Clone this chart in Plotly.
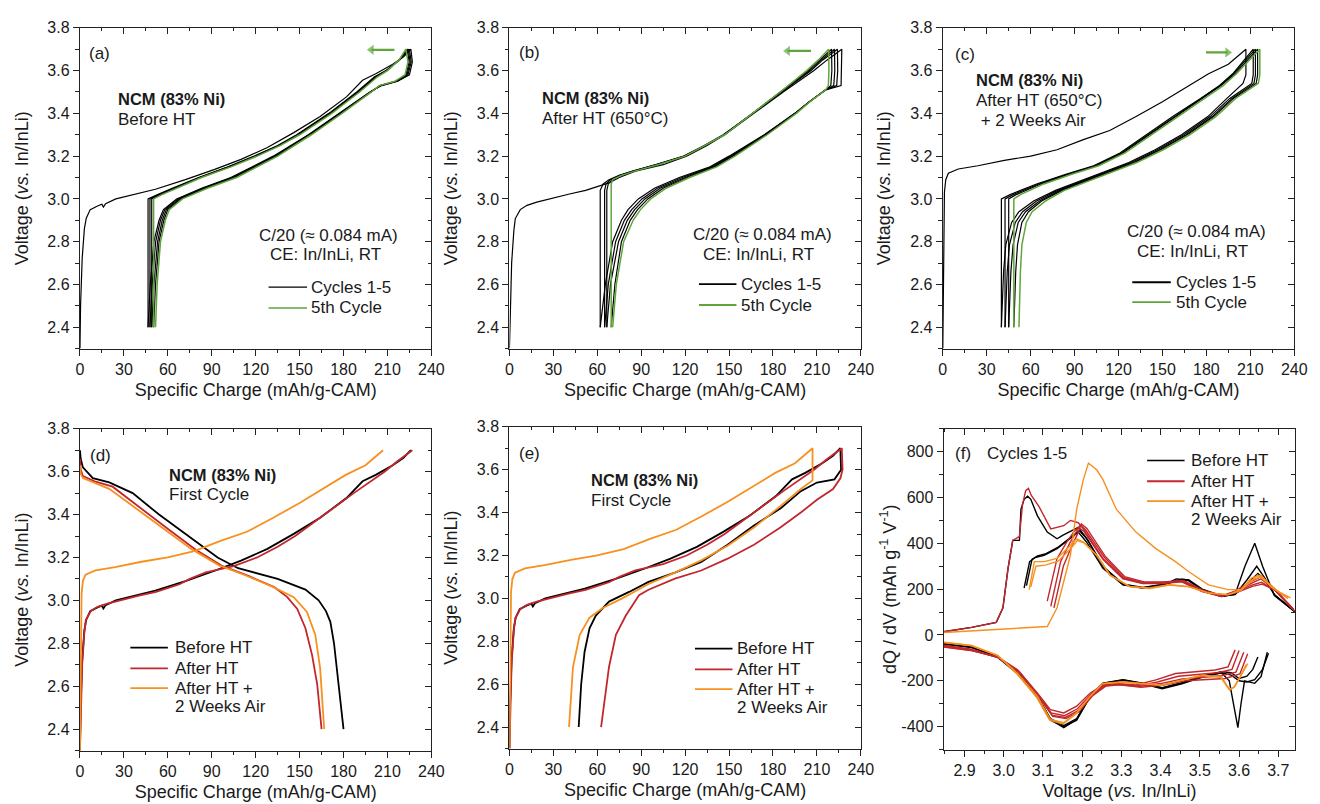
import plotly.graph_objects as go

FONT = "Arial, Liberation Sans, Helvetica, sans-serif"
BLACK = "#000000"
GREEN = "#5ea53a"
RED = "#c1272d"
ORANGE = "#f7901e"
AX = "#222222"
TXT = "#1a1a1a"

# ---------------- Panel (a): before HT, cycles 1-5 ----------------
a_first_q = [0, 0.4, 1.5, 3.0, 4.3, 7.0, 12, 15, 16, 17.5, 24.5, 40, 51.5, 72, 92, 110, 128, 146, 164, 182, 193, 202, 213.6, 221, 226]
a_first_v = [2.30, 2.50, 2.72, 2.86, 2.91, 2.95, 2.967, 2.975, 2.962, 2.978, 3.00, 3.025, 3.045, 3.09, 3.138, 3.185, 3.24, 3.31, 3.385, 3.477, 3.555, 3.585, 3.63, 3.665, 3.70]
a_ch_v = [2.40, 3.00, 3.02, 3.05, 3.10, 3.15, 3.20, 3.25, 3.30, 3.40, 3.50, 3.57, 3.60, 3.65, 3.70]
a_ch_q2 = [46.5, 46.5, 53, 63, 81, 101, 119, 135, 148, 170, 189, 201, 209, 218.5, 225.0]
a_ch_q3 = [47.8, 47.8, 54, 64, 81.7, 101.7, 119.7, 135.7, 148.7, 170.7, 189.7, 201.7, 209.3, 218.2, 224.2]
a_ch_q4 = [49.0, 49.0, 55, 65, 82.3, 102.3, 120.3, 136.3, 149.3, 171.3, 190.3, 202.3, 209.7, 218.0, 223.5]
a_ch_q5 = [50.3, 50.3, 56, 66, 83, 103, 121, 137, 150, 172, 191, 203, 210, 218, 222.6]
a_dis_v = [3.70, 3.64, 3.58, 3.55, 3.53, 3.50, 3.40, 3.30, 3.20, 3.10, 3.05, 3.00, 2.95, 2.90, 2.80, 2.60, 2.40]
a_dis_q1 = [226, 227, 225, 217, 206, 198, 177, 156, 132, 103, 83, 66, 57, 54, 50.5, 48, 46.5]
a_dis_q2 = [225, 226.2, 224, 216.5, 205.5, 198.3, 177.5, 156.5, 133, 104, 84, 67, 58, 55, 51.7, 49.3, 47.8]
a_dis_q3 = [224.2, 225.5, 223.3, 216, 205, 198.6, 178, 157, 134, 105, 85, 68, 59, 56.2, 53, 50.5, 49.0]
a_dis_q4 = [223.5, 224.8, 222.6, 215.6, 204.8, 198.8, 178.5, 157.5, 134.5, 106, 86, 69, 60, 57.3, 54, 51.6, 50.3]
a_dis_q5 = [222.6, 224, 222, 215, 204.5, 199, 179, 158, 135, 107, 87, 70, 61, 58.3, 55, 52.7, 51.6]

# ---------------- Panel (b): after HT (650 C), cycles 1-5 ----------------
b_first_q = [0, 0.5, 1.5, 3.0, 4.0, 7.4, 12, 18.7, 30, 41, 52, 59, 68, 75, 86, 105, 121, 135, 147, 167, 187, 208, 217, 227]
b_first_v = [2.30, 2.45, 2.70, 2.85, 2.908, 2.95, 2.97, 2.985, 3.005, 3.023, 3.04, 3.054, 3.075, 3.10, 3.13, 3.16, 3.20, 3.25, 3.30, 3.40, 3.50, 3.60, 3.65, 3.70]
b_ch_v = [2.40, 3.04, 3.07, 3.09, 3.11, 3.13, 3.16, 3.20, 3.25, 3.30, 3.40, 3.50, 3.60, 3.65, 3.70]
b_ch_q2 = [62.0, 62.0, 64, 68, 75, 84, 100, 119, 133, 146, 166, 186, 206, 214, 224]
b_ch_q3 = [65.0, 65.0, 66, 69, 75.5, 84.5, 100.5, 119.5, 133.5, 146.5, 166, 185.5, 205, 213, 222]
b_ch_q4 = [66.5, 66.5, 67.5, 70, 76, 85, 101, 120, 134, 147, 166, 185, 204, 212, 220]
b_ch_q5 = [69.5, 69.5, 69.5, 70.5, 76.5, 85.5, 101.5, 120, 134, 147, 166, 185, 203, 211, 218]
b_dis_v = [3.70, 3.60, 3.53, 3.51, 3.45, 3.40, 3.30, 3.20, 3.15, 3.10, 3.05, 3.00, 2.95, 2.90, 2.80, 2.60, 2.40]
b_dis_q1 = [227, 227, 226.5, 216, 204, 195, 174, 150, 137, 116, 99, 88, 81, 76.5, 70.5, 65.5, 62.0]
b_dis_q2 = [224, 224.2, 223.5, 216, 204, 195, 174.5, 151, 138.5, 118, 101, 90.5, 83.5, 78.5, 72.5, 67.5, 65.0]
b_dis_q3 = [222, 222.2, 221.5, 216, 204, 195, 175, 152, 139.5, 120, 103, 92.5, 85.5, 80.5, 74.5, 69, 66.5]
b_dis_q4 = [220, 220.2, 219.5, 216, 204, 195.5, 175.5, 153, 140.5, 121.5, 105, 94.5, 87.5, 82.5, 76.5, 72, 69.5]
b_dis_q5 = [218, 218.2, 217.8, 216, 204.5, 196, 176, 154, 141.5, 123, 107, 96.5, 89.5, 84.5, 78, 73, 70.5]

# ---------------- Panel (c): after HT + 2 weeks air, cycles 1-5 ----------------
c_first_q = [0, 0.3, 0.8, 1.1, 2.0, 3.8, 10.6, 24, 42, 60, 78, 96, 114, 132, 150, 168, 181.5, 195, 207]
c_first_v = [2.30, 2.60, 2.90, 3.03, 3.09, 3.12, 3.14, 3.155, 3.18, 3.20, 3.23, 3.277, 3.32, 3.385, 3.454, 3.53, 3.585, 3.63, 3.70]
c_ch_v = [2.40, 3.00, 3.02, 3.07, 3.115, 3.155, 3.215, 3.30, 3.385, 3.47, 3.53, 3.585, 3.64, 3.70]
c_ch_q2 = [40.0, 40.0, 46, 64, 84, 103, 121, 139, 157, 176, 189, 198, 205, 212]
c_ch_q3 = [42.5, 42.5, 48, 65.5, 85, 104, 122, 140, 158, 176.5, 189.5, 198.5, 206, 213.5]
c_ch_q4 = [45.0, 45.0, 50, 67, 86, 105, 123, 141, 159, 177, 190, 199.5, 207, 215]
c_ch_q5 = [48.5, 48.5, 53, 69, 88, 106.5, 124.5, 142.5, 160.5, 178.5, 191.5, 200.5, 208, 216.5]
c_dis_v = [3.70, 3.58, 3.54, 3.47, 3.385, 3.30, 3.23, 3.17, 3.123, 3.077, 3.04, 2.99, 2.94, 2.89, 2.785, 2.66, 2.40]
c_dis_q1 = [207, 207, 205, 194, 181, 163, 145, 127, 109, 91, 77, 62, 52, 47, 43, 41.5, 40.0]
c_dis_q2 = [212, 212, 211, 196, 182.5, 164.5, 146.5, 128.5, 110.5, 92.5, 78.5, 64, 54.5, 49.5, 45.5, 44, 42.5]
c_dis_q3 = [213.5, 213.5, 212.5, 197.5, 184, 166, 148, 130, 112, 94, 80, 66, 56.5, 51.5, 48, 46.5, 45.0]
c_dis_q4 = [215, 215, 214, 198.5, 185, 167, 149, 131, 113, 95, 81.5, 67.5, 58.5, 54, 51, 49.8, 48.5]
c_dis_q5 = [216.5, 216.5, 215.5, 200, 186.5, 168.5, 150.5, 132.5, 114.5, 96.5, 83, 70, 61, 57, 54, 53, 52.0]

# ---------------- Panel (d): first cycle, discharge plotted from zero ----------------
d_dis_black_q = [0, 0.5, 2, 8.8, 20, 36, 54, 74, 94, 108, 135, 154, 163, 168, 171, 173.5, 177, 180]
d_dis_black_v = [3.70, 3.66, 3.62, 3.57, 3.55, 3.50, 3.40, 3.30, 3.20, 3.15, 3.10, 3.05, 3.00, 2.95, 2.90, 2.80, 2.60, 2.40]
d_dis_red_q = [0, 0.5, 2, 10, 22.3, 42.5, 60.6, 78.6, 96.6, 114.6, 132.6, 141.6, 148.4, 154, 158.5, 162, 165]
d_dis_red_v = [3.66, 3.61, 3.58, 3.555, 3.53, 3.423, 3.33, 3.238, 3.162, 3.115, 3.062, 3.015, 2.96, 2.87, 2.746, 2.61, 2.40]
d_dis_orange_q = [0, 0.5, 2, 9, 20, 40, 58, 76, 95, 113, 131, 146, 155, 160.7, 164, 166.8]
d_dis_orange_v = [3.63, 3.59, 3.57, 3.55, 3.52, 3.42, 3.33, 3.24, 3.163, 3.117, 3.065, 3.015, 2.946, 2.84, 2.685, 2.40]

# ---------------- Panel (e): first cycle, discharge plotted backwards ----------------
e_dis_black_q = [226, 226.5, 222, 210, 199, 185.3, 167, 149, 131, 113, 95, 81.7, 68, 59, 54.7, 51.3, 49, 47.3]
e_dis_black_v = [3.70, 3.60, 3.555, 3.54, 3.50, 3.42, 3.34, 3.25, 3.17, 3.12, 3.077, 3.03, 2.985, 2.92, 2.86, 2.75, 2.60, 2.40]
e_dis_red_q = [227, 227.5, 226, 221, 210, 199, 185, 167, 149, 131, 113, 95, 88.5, 79.5, 72.7, 68, 62.6]
e_dis_red_v = [3.70, 3.60, 3.56, 3.51, 3.46, 3.40, 3.33, 3.25, 3.185, 3.13, 3.092, 3.04, 3.015, 2.92, 2.83, 2.68, 2.40]
e_dis_orange_q = [207, 207, 199, 185, 167, 149, 131, 113, 95, 77, 63.7, 54.7, 48, 43.4, 40.7]
e_dis_orange_v = [3.70, 3.55, 3.51, 3.43, 3.33, 3.245, 3.177, 3.12, 3.067, 3.00, 2.955, 2.91, 2.83, 2.68, 2.40]

# ---------------- Panel (f): dQ/dV, cycles 1-5 ----------------
fb_ch1_v = [2.847, 2.918, 2.981, 2.998, 3.011, 3.023, 3.040, 3.044, 3.052, 3.061, 3.069, 3.086, 3.111, 3.136, 3.150, 3.170, 3.190, 3.210, 3.253, 3.304, 3.354, 3.404, 3.440, 3.470, 3.505, 3.555, 3.590, 3.615, 3.640, 3.660, 3.690, 3.740]
fb_ch1_q = [14, 33, 55, 119, 291, 413, 413, 549, 592, 606, 592, 520, 449, 420, 435, 452, 470, 425, 300, 220, 205, 215, 245, 240, 198, 168, 178, 300, 400, 300, 172, 105]
fb_ch2_v = [3.052, 3.058, 3.066, 3.080, 3.103, 3.136, 3.170, 3.190, 3.211, 3.253, 3.304, 3.354, 3.404, 3.454, 3.470, 3.505, 3.555, 3.590, 3.620, 3.645, 3.665, 3.690, 3.740]
fb_ch2_q = [205, 260, 320, 338, 348, 377, 420, 449, 406, 291, 219, 205, 219, 241, 238, 198, 169, 176, 240, 300, 250, 176, 105]
fb_ch3_v = [3.058, 3.064, 3.072, 3.086, 3.108, 3.140, 3.172, 3.193, 3.214, 3.255, 3.305, 3.355, 3.405, 3.455, 3.472, 3.506, 3.556, 3.590, 3.622, 3.648, 3.668, 3.692, 3.742]
fb_ch3_q = [215, 270, 330, 345, 355, 385, 428, 455, 415, 296, 222, 207, 221, 243, 240, 200, 171, 178, 225, 268, 235, 172, 102]

fr_ch1_v = [2.847, 2.918, 2.981, 2.998, 3.011, 3.023, 3.040, 3.048, 3.056, 3.063, 3.070, 3.090, 3.120, 3.153, 3.170, 3.190, 3.203, 3.253, 3.304, 3.354, 3.404, 3.454, 3.505, 3.555, 3.589, 3.631, 3.656, 3.689, 3.739]
fr_ch1_q = [14, 33, 55, 119, 291, 413, 430, 570, 630, 640, 610, 560, 463, 477, 500, 490, 463, 334, 248, 227, 227, 234, 191, 169, 191, 234, 255, 205, 112]
fr_ch2_v = [3.111, 3.136, 3.161, 3.178, 3.190, 3.203, 3.253, 3.304, 3.354, 3.404, 3.454, 3.505, 3.555, 3.589, 3.631, 3.656, 3.689, 3.739]
fr_ch2_q = [148, 334, 406, 449, 470, 455, 330, 245, 225, 225, 232, 190, 168, 188, 225, 245, 200, 110]
fr_ch3_v = [3.120, 3.145, 3.168, 3.183, 3.195, 3.208, 3.256, 3.306, 3.356, 3.406, 3.456, 3.507, 3.556, 3.590, 3.632, 3.657, 3.690, 3.740]
fr_ch3_q = [125, 320, 400, 445, 480, 460, 340, 250, 228, 230, 236, 193, 170, 186, 218, 230, 198, 108]
fr_ch4_v = [3.128, 3.152, 3.174, 3.188, 3.198, 3.212, 3.258, 3.308, 3.358, 3.408, 3.458, 3.508, 3.558, 3.592, 3.634, 3.659, 3.692, 3.741]
fr_ch4_q = [118, 300, 390, 440, 485, 465, 345, 255, 232, 232, 238, 196, 172, 184, 212, 222, 195, 106]

fo_ch1_v = [2.847, 3.111, 3.136, 3.170, 3.186, 3.203, 3.216, 3.237, 3.253, 3.287, 3.337, 3.388, 3.438, 3.471, 3.522, 3.572, 3.605, 3.631, 3.647, 3.672, 3.698, 3.731]
fo_ch1_q = [11, 37, 119, 348, 549, 678, 750, 721, 678, 549, 449, 377, 320, 277, 219, 198, 198, 234, 262, 227, 191, 162]
fo_ch2_v = [3.065, 3.078, 3.103, 3.136, 3.170, 3.186, 3.203, 3.237, 3.270, 3.321, 3.371, 3.421, 3.471, 3.522, 3.572, 3.605, 3.631, 3.656, 3.681, 3.723]
fo_ch2_q = [198, 320, 320, 334, 391, 420, 406, 348, 262, 212, 205, 219, 212, 184, 176, 198, 248, 262, 212, 162]
fo_ch3_v = [3.069, 3.082, 3.106, 3.139, 3.172, 3.188, 3.205, 3.239, 3.272, 3.322, 3.372, 3.422, 3.472, 3.523, 3.573, 3.606, 3.632, 3.658, 3.683, 3.725]
fo_ch3_q = [210, 300, 305, 322, 380, 412, 402, 345, 260, 210, 203, 218, 210, 183, 175, 196, 240, 255, 210, 160]

fb_dis1_v = [3.672, 3.656, 3.640, 3.614, 3.605, 3.597, 3.589, 3.575, 3.555, 3.505, 3.454, 3.404, 3.354, 3.304, 3.253, 3.220, 3.186, 3.153, 3.119, 3.086, 3.036, 2.985, 2.918, 2.847]
fb_dis1_q = [-75, -182, -211, -200, -300, -404, -330, -200, -165, -182, -211, -232, -211, -196, -211, -268, -368, -404, -368, -268, -168, -96, -53, -39]
fb_dis2_v = [3.675, 3.660, 3.640, 3.620, 3.600, 3.580, 3.555, 3.505, 3.454, 3.404, 3.354, 3.304, 3.253, 3.220, 3.186, 3.153, 3.119, 3.086, 3.036, 2.985, 2.918, 2.847]
fb_dis2_q = [-80, -150, -195, -205, -200, -175, -165, -185, -213, -235, -213, -198, -213, -270, -372, -400, -372, -272, -170, -98, -55, -40]
fb_dis3_v = [3.648, 3.635, 3.620, 3.600, 3.580, 3.555, 3.505, 3.454, 3.404, 3.354, 3.304, 3.253, 3.220, 3.186, 3.153, 3.119, 3.086, 3.036, 2.985, 2.918, 2.847]
fb_dis3_q = [-96, -150, -180, -190, -165, -160, -180, -208, -230, -210, -195, -210, -265, -365, -395, -365, -265, -165, -94, -52, -38]

fr_dis1_v = [3.590, 3.572, 3.539, 3.488, 3.438, 3.388, 3.337, 3.287, 3.253, 3.220, 3.186, 3.153, 3.119, 3.086, 3.036, 2.985, 2.918, 2.847]
fr_dis1_q = [-65, -139, -153, -160, -168, -196, -218, -211, -218, -254, -311, -340, -326, -254, -153, -96, -68, -53]
fr_dis2_v = [3.600, 3.582, 3.545, 3.495, 3.445, 3.392, 3.340, 3.290, 3.255, 3.222, 3.188, 3.155, 3.121, 3.088, 3.038, 2.986, 2.918, 2.847]
fr_dis2_q = [-68, -150, -165, -172, -180, -205, -222, -214, -220, -260, -322, -352, -340, -262, -158, -98, -68, -52]
fr_dis3_v = [3.612, 3.592, 3.555, 3.505, 3.455, 3.400, 3.345, 3.292, 3.258, 3.224, 3.190, 3.157, 3.123, 3.090, 3.040, 2.987, 2.918, 2.847]
fr_dis3_q = [-75, -162, -178, -185, -192, -212, -225, -216, -222, -264, -330, -360, -350, -270, -162, -100, -65, -48]
fr_dis4_v = [3.622, 3.602, 3.565, 3.515, 3.462, 3.408, 3.350, 3.295, 3.260, 3.226, 3.192, 3.159, 3.125, 3.092, 3.042, 2.988, 2.918, 2.847]
fr_dis4_q = [-82, -170, -190, -195, -200, -218, -228, -217, -223, -266, -335, -365, -355, -275, -165, -100, -62, -45]

fo_dis1_v = [3.622, 3.605, 3.589, 3.576, 3.555, 3.505, 3.454, 3.404, 3.354, 3.304, 3.253, 3.220, 3.186, 3.153, 3.119, 3.086, 3.036, 2.985, 2.918, 2.847]
fo_dis1_q = [-125, -180, -225, -240, -182, -175, -196, -218, -211, -204, -211, -268, -340, -383, -368, -268, -168, -89, -46, -32]
fo_dis2_v = [3.618, 3.602, 3.586, 3.574, 3.553, 3.503, 3.452, 3.402, 3.352, 3.302, 3.251, 3.218, 3.184, 3.151, 3.117, 3.084, 3.034, 2.984, 2.918, 2.847]
fo_dis2_q = [-130, -185, -230, -235, -185, -178, -198, -220, -213, -206, -213, -272, -345, -388, -372, -272, -170, -90, -47, -33]

# tick labels for dQ/dV axis
f_yticks = [-400, -200, 0, 200, 400, 600, 800]
f_yticklabels = ["-400", "-200", "0", "200", "400", "600", "800"]

# direction arrows (tail x, head x, voltage, head symbol) for panels a, b, c
arrow_a = (214.8, 199.0, 3.697, "triangle-left")
arrow_b = (206.0, 190.0, 3.692, "triangle-left")
arrow_c = (179.7, 194.5, 3.685, "triangle-right")

# ---------------- layout geometry ----------------
W, H = 1320, 804
DOMAINS = {
    1: ([0.0583, 0.3280], [0.5721, 0.9751]),
    2: ([0.3879, 0.6576], [0.5721, 0.9751]),
    3: ([0.7205, 0.9902], [0.5721, 0.9751]),
    4: ([0.0583, 0.3280], [0.0672, 0.4714]),
    5: ([0.3879, 0.6576], [0.0697, 0.4739]),
    6: ([0.7212, 0.9909], [0.0684, 0.4714]),
}

fig = go.Figure()


def ref(i):
    return ("x" if i == 1 else f"x{i}", "y" if i == 1 else f"y{i}")


def add_line(i, xs, ys, color, width):
    xr, yr = ref(i)
    fig.add_trace(go.Scatter(
        x=xs, y=ys, mode="lines", line=dict(color=color, width=width),
        xaxis=xr, yaxis=yr, showlegend=False, hoverinfo="skip"))


def add_cycles(i, first_q, first_v, ch_v, ch_qs, dis_v, dis_qs):
    n = len(dis_qs)
    for k in range(n):
        if k == 0:
            xs = list(first_q) + list(dis_qs[0])
            ys = list(first_v) + list(dis_v)
        else:
            xs = list(ch_qs[k - 1]) + list(dis_qs[k])
            ys = list(ch_v) + list(dis_v)
        if k == n - 1:
            add_line(i, xs, ys, GREEN, 1.5)
        else:
            add_line(i, xs, ys, BLACK, 1.2)


def add_arrow(i, spec):
    xt, xh, v, sym = spec
    xr, yr = ref(i)
    fig.add_trace(go.Scatter(
        x=[xt, xh], y=[v, v], mode="lines+markers", xaxis=xr, yaxis=yr,
        line=dict(color=GREEN, width=2.2),
        marker=dict(symbol=sym, size=[0, 9], color=GREEN, line=dict(width=0)),
        showlegend=False, hoverinfo="skip"))


add_cycles(1, a_first_q, a_first_v, a_ch_v, [a_ch_q2, a_ch_q3, a_ch_q4, a_ch_q5],
           a_dis_v, [a_dis_q1, a_dis_q2, a_dis_q3, a_dis_q4, a_dis_q5])
add_cycles(2, b_first_q, b_first_v, b_ch_v, [b_ch_q2, b_ch_q3, b_ch_q4, b_ch_q5],
           b_dis_v, [b_dis_q1, b_dis_q2, b_dis_q3, b_dis_q4, b_dis_q5])
add_cycles(3, c_first_q, c_first_v, c_ch_v, [c_ch_q2, c_ch_q3, c_ch_q4, c_ch_q5],
           c_dis_v, [c_dis_q1, c_dis_q2, c_dis_q3, c_dis_q4, c_dis_q5])
add_arrow(1, arrow_a)
add_arrow(2, arrow_b)
add_arrow(3, arrow_c)

# (d)
add_line(4, a_first_q, a_first_v, BLACK, 1.8)
add_line(4, d_dis_black_q, d_dis_black_v, BLACK, 1.8)
add_line(4, b_first_q, b_first_v, RED, 1.8)
add_line(4, d_dis_red_q, d_dis_red_v, RED, 1.8)
add_line(4, c_first_q, c_first_v, ORANGE, 1.8)
add_line(4, d_dis_orange_q, d_dis_orange_v, ORANGE, 1.8)
# (e)
add_line(5, a_first_q + e_dis_black_q, a_first_v + e_dis_black_v, BLACK, 1.8)
add_line(5, b_first_q + e_dis_red_q, b_first_v + e_dis_red_v, RED, 1.8)
add_line(5, c_first_q + e_dis_orange_q, c_first_v + e_dis_orange_v, ORANGE, 1.8)
# (f)
f_black = [(fb_ch1_v, fb_ch1_q), (fb_ch2_v, fb_ch2_q), (fb_ch3_v, fb_ch3_q),
           (fb_dis1_v, fb_dis1_q), (fb_dis2_v, fb_dis2_q), (fb_dis3_v, fb_dis3_q)]
f_red = [(fr_ch1_v, fr_ch1_q), (fr_ch2_v, fr_ch2_q), (fr_ch3_v, fr_ch3_q), (fr_ch4_v, fr_ch4_q),
         (fr_dis1_v, fr_dis1_q), (fr_dis2_v, fr_dis2_q), (fr_dis3_v, fr_dis3_q), (fr_dis4_v, fr_dis4_q)]
f_orange = [(fo_ch1_v, fo_ch1_q), (fo_ch2_v, fo_ch2_q), (fo_ch3_v, fo_ch3_q),
            (fo_dis1_v, fo_dis1_q), (fo_dis2_v, fo_dis2_q)]
for group, color in [(f_black, BLACK), (f_red, RED), (f_orange, ORANGE)]:
    for vv, qq in group:
        add_line(6, vv, qq, color, 1.4)

# ---------------- axes ----------------
tickfont = dict(family=FONT, size=16, color=TXT)
titlefont = dict(family=FONT, size=18, color=TXT)

XT_Q = "Specific Charge (mAh/g-CAM)"
YT_V = "Voltage (<i>vs.</i> In/InLi)"

layout_axes = {}
for i in range(1, 7):
    xd, yd = DOMAINS[i]
    if i < 6:
        xrange_, yrange_ = [0, 240], [2.3, 3.8]
        xt = dict(tickmode="linear", tick0=0, dtick=30)
        xm = dict(tickmode="linear", tick0=0, dtick=15)
        yt = dict(tickmode="linear", tick0=2.4, dtick=0.2, tickformat=".1f")
        ym = dict(tickmode="linear", tick0=2.3, dtick=0.1)
        xtitle, ytitle = XT_Q, YT_V
        ystand = 14
    else:
        xrange_, yrange_ = [2.847, 3.743], [-500, 900]
        xt = dict(tickmode="linear", tick0=2.9, dtick=0.1, tickformat=".1f")
        xm = dict(tickmode="linear", tick0=2.85, dtick=0.05)
        yt = dict(tickmode="array", tickvals=f_yticks, ticktext=f_yticklabels)
        ym = dict(tickmode="linear", tick0=-500, dtick=100)
        xtitle, ytitle = YT_V, "dQ / dV (mAh g<sup>-1</sup> V<sup>-1</sup>)"
        ystand = 0
    common = dict(showline=True, linecolor=AX, linewidth=1.3, showgrid=False,
                  zeroline=False, ticklen=6, tickwidth=1.3, tickcolor=AX,
                  fixedrange=True)
    xk = "xaxis" if i == 1 else f"xaxis{i}"
    yk = "yaxis" if i == 1 else f"yaxis{i}"
    xr, yr = ref(i)
    layout_axes[xk] = dict(common, domain=xd, range=xrange_, anchor=yr, ticks="outside",
                           tickfont=tickfont, **xt,
                           minor=dict(ticks="outside", ticklen=3.5, tickwidth=1.1, tickcolor=AX, **xm),
                           title=dict(text=xtitle, font=titlefont, standoff=6))
    layout_axes[yk] = dict(common, domain=yd, range=yrange_, anchor=xr, ticks="outside",
                           tickfont=tickfont, **yt,
                           minor=dict(ticks="outside", ticklen=3.5, tickwidth=1.1, tickcolor=AX, **ym),
                           title=dict(text=ytitle, font=titlefont, standoff=ystand))
    # mirrored frame with inward ticks (top / right)
    j = i + 6
    layout_axes[f"xaxis{j}"] = dict(common, range=xrange_, overlaying=xr, side="top",
                                    anchor=f"y{j}", ticks="inside", showticklabels=False,
                                    **{k: v for k, v in xt.items() if k != "tickformat"},
                                    minor=dict(ticks="inside", ticklen=3.5, tickwidth=1.1, tickcolor=AX, **xm))
    yt2 = {k: v for k, v in yt.items() if k not in ("tickformat", "ticktext")}
    layout_axes[f"yaxis{j}"] = dict(common, range=yrange_, overlaying=yr, side="right",
                                    anchor=f"x{j}", ticks="inside", showticklabels=False,
                                    **yt2,
                                    minor=dict(ticks="inside", ticklen=3.5, tickwidth=1.1, tickcolor=AX, **ym))
    fig.add_trace(go.Scatter(x=[None], y=[None], xaxis=f"x{j}", yaxis=f"y{j}",
                             mode="lines", showlegend=False, hoverinfo="skip"))

# ---------------- annotations ----------------
annotations = []
shapes = []
ASIZE = 17


def ann(i, text, x, y, xanchor="left", size=ASIZE):
    xr, yr = ref(i)
    annotations.append(dict(text=text, x=x, y=y, xref=xr, yref=yr, xanchor=xanchor,
                            yanchor="middle", showarrow=False,
                            font=dict(family=FONT, size=size, color=TXT)))


ann(1, "(a)", 5.0, 3.68)
ann(1, "<b>NCM (83% Ni)</b>", 24.5, 3.465, size=16.5)
ann(1, "Before HT", 24.5, 3.369)
ann(1, "C/20 (\u2248 0.084 mA)", 170, 2.83, "center")
ann(1, "CE: In/InLi, RT", 167.5, 2.742, "center")

ann(2, "(b)", 5.0, 3.685)
ann(2, "<b>NCM (83% Ni)</b>", 21, 3.474, size=16.5)
ann(2, "After HT (650\u00b0C)", 21, 3.377)
ann(2, "C/20 (\u2248 0.084 mA)", 173, 2.834, "center")
ann(2, "CE: In/InLi, RT", 170.4, 2.742, "center")

ann(3, "(c)", 7.0, 3.677)
ann(3, "<b>NCM (83% Ni)</b>", 21.5, 3.557, size=16.5)
ann(3, "After HT (650\u00b0C)", 21.5, 3.458)
ann(3, " + 2 Weeks Air", 21.5, 3.366)
ann(3, "C/20 (\u2248 0.084 mA)", 173.4, 2.846, "center")
ann(3, "CE: In/InLi, RT", 170.7, 2.754, "center")

ann(4, "(d)", 5.5, 3.677)
ann(4, "<b>NCM (83% Ni)</b>", 59.5, 3.585, size=16.5)
ann(4, "First Cycle", 59.5, 3.492)

ann(5, "(e)", 5.0, 3.677)
ann(5, "<b>NCM (83% Ni)</b>", 54.2, 3.554, size=16.5)
ann(5, "First Cycle", 54.2, 3.458)

ann(6, "(f)", 2.870, 793)
ann(6, "Cycles 1-5", 2.952, 793)

# ---------------- legends (drawn as key lines + labels, pixel positions) ----------------
# (line x0, line x1, text x, [(label, colour, row y, line width)])
legend_specs = [
    (268, 307, 309, [("Cycles 1-5", BLACK, 282, 1.3), ("5th Cycle", GREEN, 303, 1.5)]),
    (704, 742, 745, [("Cycles 1-5", BLACK, 279, 1.8), ("5th Cycle", GREEN, 300, 1.8)]),
    (1143, 1182, 1185, [("Cycles 1-5", BLACK, 277, 1.8), ("5th Cycle", GREEN, 297, 1.8)]),
    (128, 166, 171, [("Before HT", BLACK, 646, 1.8), ("After HT", RED, 667, 1.8),
                     ("After HT +", ORANGE, 687, 1.8), ("2 Weeks Air", None, 706, 0)]),
    (700, 738, 741, [("Before HT", BLACK, 647, 1.8), ("After HT", RED, 668, 1.8),
                     ("After HT +", ORANGE, 688, 1.8), ("2 Weeks Air", None, 707, 0)]),
    (1158, 1196, 1200, [("Before HT", BLACK, 457, 1.4), ("After HT", RED, 478, 1.8),
                        ("After HT +", ORANGE, 498, 1.8), ("2 Weeks Air", None, 517, 0)]),
]
for x0, x1, xt_, rows in legend_specs:
    for label, color, ypx, lw in rows:
        yp = 1 - ypx / H
        if color is not None:
            shapes.append(dict(type="line", xref="paper", yref="paper",
                               x0=x0 / W, x1=x1 / W, y0=yp, y1=yp,
                               line=dict(color=color, width=lw)))
        annotations.append(dict(text=label, x=xt_ / W, y=yp, xref="paper", yref="paper",
                                xanchor="left", yanchor="middle", showarrow=False,
                                font=dict(family=FONT, size=ASIZE, color=TXT)))

fig.update_layout(
    width=W, height=H,
    margin=dict(l=0, r=0, t=0, b=0),
    paper_bgcolor="white", plot_bgcolor="white",
    font=dict(family=FONT, size=15, color=TXT),
    showlegend=False,
    annotations=annotations,
    shapes=shapes,
    **layout_axes,
)

fig.write_html("out.html",
               config={"displayModeBar": False},
               post_script="document.body.style.margin='0px';document.body.style.overflow='hidden';")
